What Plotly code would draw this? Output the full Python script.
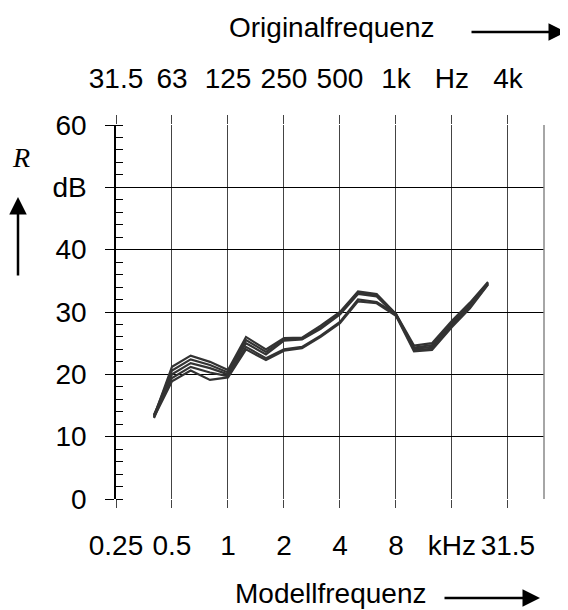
import plotly.graph_objects as go
import math

# Third-octave model frequencies (kHz)
freqs = [0.4, 0.5, 0.63, 0.8, 1, 1.25, 1.6, 2, 2.5, 3.15, 4, 5, 6.3, 8, 10, 12.5, 16, 20, 25]

# Sound reduction index R (dB), several measurement curves
r_curve1 = [13.2, 21.2, 23.0, 22.0, 20.7, 26.0, 24.0, 25.8, 25.9, 27.8, 30.0, 33.3, 32.9, 29.7, 24.6, 25.0, 28.6, 31.5, 34.8]
r_curve2 = [13.4, 20.6, 22.4, 21.5, 20.3, 25.5, 23.6, 25.6, 25.7, 27.5, 29.8, 33.1, 32.7, 29.6, 24.3, 24.7, 28.3, 31.2, 34.7]
r_curve3 = [13.0, 20.0, 21.8, 21.0, 20.0, 25.0, 23.2, 25.4, 25.6, 27.3, 29.6, 32.9, 32.5, 29.5, 24.1, 24.4, 28.1, 31.0, 34.6]
r_curve4 = [13.5, 19.4, 21.2, 20.3, 19.7, 24.4, 22.6, 24.0, 24.4, 26.2, 28.4, 32.0, 31.6, 29.7, 23.9, 24.1, 27.8, 30.8, 34.5]
r_curve5 = [13.1, 18.9, 20.6, 19.1, 19.5, 24.0, 22.3, 23.8, 24.2, 26.0, 28.2, 31.7, 31.4, 29.4, 23.7, 23.9, 27.6, 30.6, 34.4]

# Axis ticks
x_tickvals = [0.25, 0.5, 1, 2, 4, 8, 16, 32]
x_bottom_text = ["0.25", "0.5", "1", "2", "4", "8", "kHz", "31.5"]
x_top_text = ["31.5", "63", "125", "250", "500", "1k", "Hz", "4k"]
y_tickvals = [0, 10, 20, 30, 40, 50, 60]
y_ticktext = ["0", "10", "20", "30", "40", "dB", "60"]

FONT = "Liberation Sans, Arial, sans-serif"
FS = 28

fig = go.Figure()
for curve in [r_curve1, r_curve2, r_curve3, r_curve4, r_curve5]:
    fig.add_trace(go.Scatter(x=freqs, y=curve, mode="lines",
                             line=dict(color="#333333", width=2.2),
                             showlegend=False, hoverinfo="skip"))
# invisible trace to anchor the top axis
fig.add_trace(go.Scatter(x=[0.25, 50], y=[None, None], xaxis="x2", mode="lines",
                         showlegend=False, hoverinfo="skip"))

xr = [math.log10(0.25), math.log10(50)]
fig.update_layout(
    width=560, height=602,
    margin=dict(l=108, r=24, t=117, b=111),
    paper_bgcolor="white", plot_bgcolor="white",
    font=dict(family=FONT, size=FS, color="black"),
    xaxis=dict(type="log", range=xr, tickvals=x_tickvals, ticktext=x_bottom_text,
               ticks="outside", ticklen=8, tickwidth=1, tickcolor="#444",
               showgrid=True, gridcolor="#444", gridwidth=1,
               showline=False, zeroline=False, ticklabelstandoff=13,
               tickfont=dict(family=FONT, size=FS)),
    xaxis2=dict(type="log", range=xr, tickvals=x_tickvals, ticktext=x_top_text,
                overlaying="x", side="top", anchor="y",
                ticks="outside", ticklen=9, tickwidth=1, tickcolor="#444",
                showgrid=False, showline=False, zeroline=False, ticklabelstandoff=16,
                tickfont=dict(family=FONT, size=FS)),
    yaxis=dict(range=[0, 60], tickvals=y_tickvals, ticktext=y_ticktext,
               ticks="outside", ticklen=9, tickwidth=1.2, tickcolor="black",
               showgrid=True, gridcolor="black", gridwidth=1.2,
               showline=True, linecolor="black", linewidth=1.5,
               zeroline=False, ticklabelstandoff=13,
               minor=dict(dtick=2, ticks="inside", ticklen=7, tickcolor="black",
                          tickwidth=1, showgrid=False),
               tickfont=dict(family=FONT, size=FS)),
)

# right border
fig.add_shape(type="line", xref="paper", yref="paper", x0=1, x1=1, y0=0, y1=1,
              line=dict(color="#888888", width=1.5))

def px_to_paper(px, py):
    # px, py in reference-page pixels
    return (px - 116) / 428.0, (499 - py) / 374.0

# Texts
txt = dict(xref="paper", yref="paper", showarrow=False, xanchor="center", yanchor="middle")
x, y = px_to_paper(331, 27)
fig.add_annotation(text="Originalfrequenz", x=x, y=y, font=dict(family=FONT, size=FS), **txt)
x, y = px_to_paper(330, 593)
fig.add_annotation(text="Modellfrequenz", x=x, y=y, font=dict(family=FONT, size=FS), **txt)
x, y = px_to_paper(21, 157)
fig.add_annotation(text="<i>R</i>", x=x, y=y,
                   font=dict(family="Liberation Serif, Times New Roman, serif", size=28), **txt)

# Arrows
arrow_style = dict(showarrow=True, arrowhead=2, arrowsize=1.4, arrowwidth=2.5,
                   arrowcolor="black", xref="paper", yref="paper", text="")
x, y = px_to_paper(566, 32)
fig.add_annotation(x=x, y=y, ax=-96, ay=0, **arrow_style)
x, y = px_to_paper(540, 598)
fig.add_annotation(x=x, y=y, ax=-97, ay=0, **arrow_style)
x, y = px_to_paper(18, 197)
fig.add_annotation(x=x, y=y, ax=0, ay=80, **arrow_style)

fig.write_html("out.html")
